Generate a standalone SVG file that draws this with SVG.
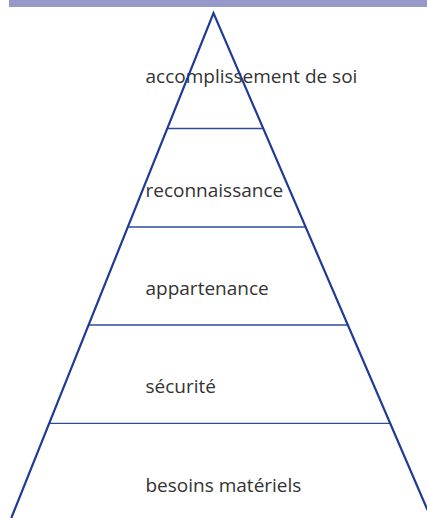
<svg xmlns="http://www.w3.org/2000/svg" width="427" height="518" viewBox="0 0 427 518">
<style>
.lbl{font-family:"Open Sans","Noto Sans","Liberation Sans",sans-serif;font-size:19px;fill:#333333}
.edge{fill:none;stroke:#1f3b94;stroke-width:2.2;stroke-linecap:butt}
.sep{stroke:#2f4a9c;stroke-width:1.3}
</style>
<rect x="0" y="0" width="427" height="518" fill="#ffffff"/>
<rect id="topbar" x="9" y="0" width="418" height="7" fill="#9799c9"/>
<g id="level5"><text class="lbl" x="145.5" y="83">accomplissement de soi</text></g>
<g id="level4"><text class="lbl" x="145.5" y="197">reconnaissance</text></g>
<g id="level3"><text class="lbl" x="145.5" y="295">appartenance</text></g>
<g id="level2"><text class="lbl" x="145.5" y="393">sécurité</text></g>
<g id="level1"><text class="lbl" x="145.5" y="492">besoins matériels</text></g>
<g id="connectors">
<line class="sep" x1="167.5" y1="128.5" x2="263" y2="128.5"/>
<line class="sep" x1="128" y1="227" x2="305" y2="227"/>
<line class="sep" x1="89" y1="325" x2="347" y2="325"/>
<line class="sep" x1="49.5" y1="423.3" x2="390" y2="423.3"/>
<polyline class="edge" points="11.3,518 213.5,13 427.5,510"/>
</g>
</svg>
